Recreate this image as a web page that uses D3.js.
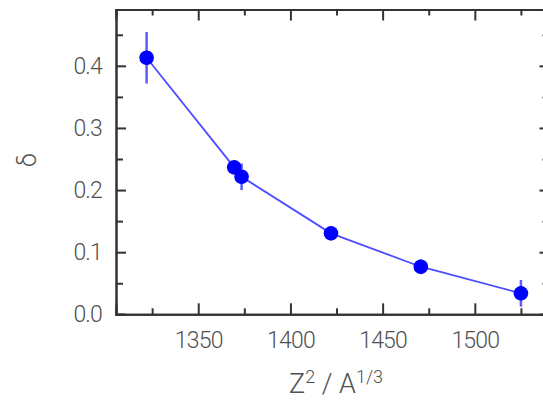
<!DOCTYPE html>
<html>
<head>
<meta charset="utf-8">
<script src="https://cdn.jsdelivr.net/npm/d3@7"></script>
<style>
  html, body { margin: 0; padding: 0; background: #fff; }
  svg { display: block; }
</style>
</head>
<body>
<svg id="chart" width="543" height="402"></svg>
<script>
// ---- data ----
const xValues = [1322, 1369.5, 1373.5, 1422, 1470.7, 1525];
const deltaValues = [0.413, 0.2365, 0.2214, 0.1303, 0.0766, 0.0338];
const deltaErrors = [0.0415, 0.01, 0.0215, 0.008, 0.012, 0.0215];
const xMajorTicks = [1350, 1400, 1450, 1500];
const xMinorTicks = [1325, 1375, 1425, 1475, 1525];
const yMajorTicks = [0.0, 0.1, 0.2, 0.3, 0.4];
const yMinorTicks = [0.05, 0.15, 0.25, 0.35, 0.45];
const xDomain = [1305.4, 1540.5];
const yDomain = [0, 0.4907];

// ---- layout ----
const mLeft = 116, mRight = 549.5, mTop = 9.5, mBottom = 314.3;
const axisColor = "#333";
const textColor = "#505050";

const svg = d3.select("#chart");
const x = d3.scaleLinear().domain(xDomain).range([mLeft, mRight]);
const y = d3.scaleLinear().domain(yDomain).range([mBottom, mTop]);

function styleAxis(g) {
  g.select(".domain").attr("stroke", axisColor).attr("stroke-width", 2);
  g.selectAll(".tick line").attr("stroke", axisColor).attr("stroke-width", 2);
  g.selectAll(".tick text").attr("fill", textColor).attr("font-size", 23)
    .attr("font-weight", 300)
    .attr("letter-spacing", "-0.8px").attr("font-family", "Roboto, sans-serif");
}

// bottom axis
svg.append("g").attr("transform", `translate(0,${mBottom})`)
  .call(d3.axisBottom(x).tickValues(xMajorTicks).tickSize(-11).tickPadding(17).tickFormat(d3.format("d")))
  .call(styleAxis);
svg.append("g").attr("transform", `translate(0,${mBottom})`)
  .call(d3.axisBottom(x).tickValues(xMinorTicks).tickSize(-6).tickFormat(""))
  .call(styleAxis);
// top axis
svg.append("g").attr("transform", `translate(0,${mTop})`)
  .call(d3.axisTop(x).tickValues(xMajorTicks).tickSize(-11).tickFormat(""))
  .call(styleAxis);
svg.append("g").attr("transform", `translate(0,${mTop})`)
  .call(d3.axisTop(x).tickValues(xMinorTicks).tickSize(-6).tickFormat(""))
  .call(styleAxis);
// left axis
svg.append("g").attr("transform", `translate(${mLeft},0)`)
  .call(d3.axisLeft(y).tickValues(yMajorTicks).tickSize(-10).tickPadding(14).tickFormat(d3.format(".1f")))
  .call(styleAxis);
svg.append("g").attr("transform", `translate(${mLeft},0)`)
  .call(d3.axisLeft(y).tickValues(yMinorTicks).tickSize(-7).tickFormat(""))
  .call(styleAxis);
// right axis
svg.append("g").attr("transform", `translate(${mRight},0)`)
  .call(d3.axisRight(y).tickValues(yMajorTicks).tickSize(-10).tickFormat(""))
  .call(styleAxis);
svg.append("g").attr("transform", `translate(${mRight},0)`)
  .call(d3.axisRight(y).tickValues(yMinorTicks).tickSize(-7).tickFormat(""))
  .call(styleAxis);

// data
const data = xValues.map((v, i) => ({x: v, y: deltaValues[i], e: deltaErrors[i]}));

svg.append("g").selectAll("line").data(data).join("line")
  .attr("x1", d => x(d.x)).attr("x2", d => x(d.x))
  .attr("y1", d => y(d.y - d.e)).attr("y2", d => y(d.y + d.e))
  .attr("stroke", "#5c5cff").attr("stroke-width", 2.5);

svg.append("path").datum(data)
  .attr("d", d3.line().x(d => x(d.x)).y(d => y(d.y)))
  .attr("fill", "none").attr("stroke", "#4d4dff").attr("stroke-width", 1.8);

svg.append("g").selectAll("circle").data(data).join("circle")
  .attr("cx", d => x(d.x)).attr("cy", d => y(d.y)).attr("r", 7.3)
  .attr("fill", "#0000ff");

// axis titles
const xt = svg.append("text").attr("x", 336).attr("y", 393)
  .attr("text-anchor", "middle").attr("fill", textColor)
  .attr("font-family", "Roboto, sans-serif").attr("font-weight", 300).attr("font-size", 27);
xt.append("tspan").text("Z");
xt.append("tspan").attr("font-size", 18).attr("dy", -10).text("2");
xt.append("tspan").attr("dy", 10).text(" / A");
xt.append("tspan").attr("font-size", 18).attr("dy", -10).text("1/3");

svg.append("text").attr("transform", "translate(36,160) rotate(-90)")
  .attr("text-anchor", "middle").attr("fill", textColor)
  .attr("font-family", "Roboto, sans-serif").attr("font-weight", 300).attr("font-size", 25).text("δ");
</script>
</body>
</html>
